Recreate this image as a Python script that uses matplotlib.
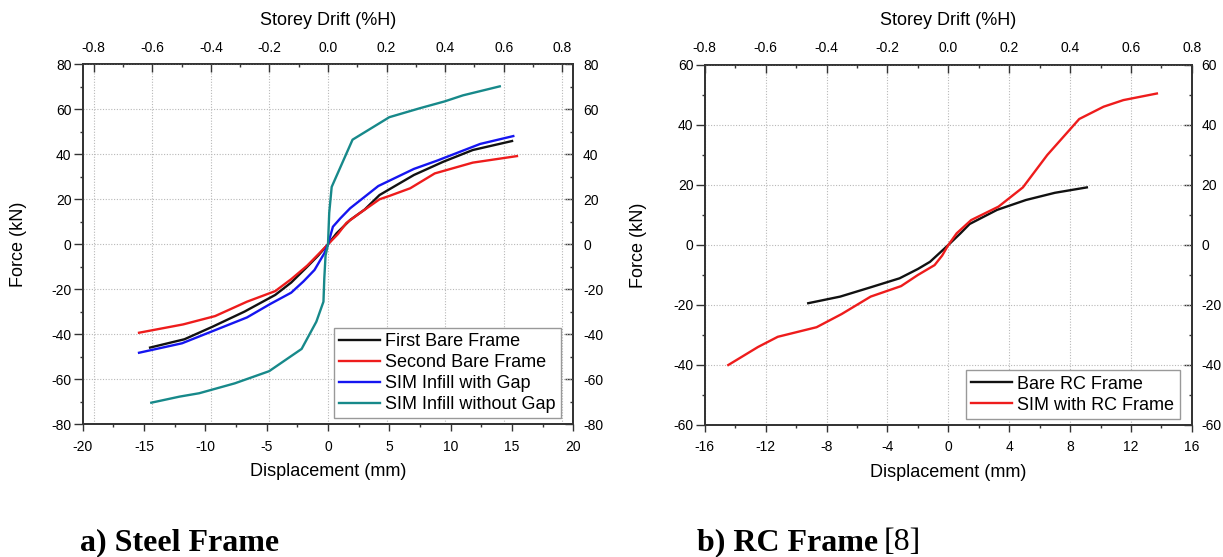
import numpy as np
import matplotlib
matplotlib.use("Agg")
import matplotlib.pyplot as plt
from matplotlib.ticker import MultipleLocator

plt.rcParams['font.family'] = ['Liberation Sans', 'DejaVu Sans']
plt.rcParams['axes.unicode_minus'] = False

# ---- data: a) steel frame (displacement mm, force kN)
first_disp = [-14.5, -11.7, -9.4, -6.8, -4.3, -3.0, -1.7, -0.8, 0.0, 0.7, 1.8, 3.0, 4.2, 7.0, 9.4, 11.8, 15.0]
first_force = [-45.9, -42.2, -36.6, -29.9, -22.5, -17.0, -10.0, -5.0, 0.0, 4.9, 10.8, 15.5, 21.9, 30.8, 36.7, 41.9, 45.9]

second_disp = [-15.4, -11.8, -9.2, -6.6, -4.3, -3.0, -1.7, -0.8, 0.0, 0.8, 1.5, 2.5, 4.2, 5.0, 6.7, 8.7, 11.8, 15.4]
second_force = [-39.3, -35.6, -31.9, -25.5, -20.8, -15.5, -9.5, -4.5, 0.0, 4.5, 9.5, 13.5, 20.0, 21.5, 24.9, 31.5, 36.3, 39.2]

gap_disp = [-15.4, -11.9, -9.5, -6.6, -4.7, -3.0, -2.0, -1.1, -0.3, 0.0, 0.4, 1.0, 1.8, 4.1, 7.0, 8.9, 12.4, 15.1]
gap_force = [-48.2, -44.0, -38.8, -32.5, -26.5, -21.5, -16.5, -11.4, -4.0, 0.0, 7.8, 11.5, 16.0, 25.9, 33.5, 37.2, 44.6, 48.1]

nogap_disp = [-14.4, -12.1, -10.5, -7.6, -4.8, -2.15, -0.95, -0.37, -0.3, -0.2, 0.0, 0.1, 0.3, 2.0, 5.0, 7.5, 9.5, 11.0, 14.0]
nogap_force = [-70.4, -67.7, -66.2, -61.8, -56.4, -46.5, -34.4, -25.5, -15.0, -5.0, 0.0, 14.0, 25.5, 46.5, 56.5, 60.5, 63.5, 66.2, 70.2]

# ---- data: b) RC frame
bare_disp = [-9.2, -7.1, -5.1, -3.2, -2.0, -1.2, 0.0, 0.8, 1.4, 3.2, 5.1, 7.0, 9.1]
bare_force = [-19.4, -17.2, -14.1, -11.1, -8.0, -5.6, 0.0, 3.9, 7.0, 11.7, 15.0, 17.4, 19.2]

simrc_disp = [-14.45, -12.5, -11.2, -8.65, -7.0, -5.1, -3.1, -2.0, -0.9, -0.4, 0.0, 0.55, 1.5, 3.3, 4.9, 6.5, 8.6, 10.2, 11.5, 13.7]
simrc_force = [-40.0, -34.0, -30.6, -27.4, -23.0, -17.2, -13.7, -10.0, -6.7, -3.5, 0.0, 3.9, 8.3, 12.8, 19.2, 30.0, 42.0, 46.1, 48.3, 50.5]

steel_labels = ["First Bare Frame", "Second Bare Frame", "SIM Infill with Gap", "SIM Infill without Gap"]
rc_labels = ["Bare RC Frame", "SIM with RC Frame"]

BLACK = "#111111"
RED = "#ee1c1c"
BLUE = "#1515f0"
TEAL = "#17898a"
GRIDC = "#b8b8b8"
SPINE = "#333333"
LW = 1.7

W, H = 1223, 557
fig = plt.figure(figsize=(W / 100, H / 100), dpi=100)


def make_panel(rect, xlim, xmaj, xmin, ylim, ymaj, ymin, drift_lim, ylab_x):
    ax = fig.add_axes(rect)
    axt = ax.twiny()
    axr = ax.twinx()
    ax.set_zorder(3)
    ax.patch.set_visible(False)
    axt.set_zorder(1)
    axr.set_zorder(2)

    ax.set_xlim(xlim)
    ax.set_ylim(ylim)
    axr.set_ylim(ylim)
    axt.set_xlim(-drift_lim, drift_lim)

    ax.xaxis.set_major_locator(MultipleLocator(xmaj))
    ax.xaxis.set_minor_locator(MultipleLocator(xmin))
    for a in (ax, axr):
        a.yaxis.set_major_locator(MultipleLocator(ymaj))
        a.yaxis.set_minor_locator(MultipleLocator(ymin))
    axt.xaxis.set_major_locator(MultipleLocator(0.2))
    axt.xaxis.set_minor_locator(MultipleLocator(0.1))
    axt.xaxis.set_major_formatter(lambda v, p: f"{v:.1f}")

    ax.tick_params(axis='x', which='major', direction='out', length=5, width=1, pad=6, labelsize=10, color=SPINE)
    ax.tick_params(axis='x', which='minor', direction='out', length=2.5, width=1, color=SPINE)
    ax.tick_params(axis='y', which='major', direction='out', length=6.5, width=1, pad=1.5, labelsize=10, color=SPINE)
    ax.tick_params(axis='y', which='minor', direction='out', length=2.5, width=1, color=SPINE)
    axt.tick_params(axis='x', which='major', direction='in', length=5.5, width=1, pad=7, labelsize=10, color=SPINE)
    axt.tick_params(axis='x', which='minor', direction='in', length=2.5, width=1, color=SPINE)
    axr.tick_params(axis='y', which='major', direction='in', length=5.5, width=1, pad=7, labelsize=10, color=SPINE)
    axr.tick_params(axis='y', which='minor', direction='in', length=2.5, width=1, color=SPINE)

    for a in (ax, axt, axr):
        for s in a.spines.values():
            s.set_color(SPINE)
            s.set_linewidth(1.1)

    ax.grid(axis='y', which='major', linestyle=(0, (1, 1.5)), color=GRIDC, linewidth=0.8)
    axt.grid(axis='x', which='major', linestyle=(0, (1, 1.5)), color=GRIDC, linewidth=0.8)

    ax.set_xlabel("Displacement (mm)", fontsize=13, va='center')
    ax.xaxis.set_label_coords(0.5, -0.1325)
    ax.set_ylabel("Force (kN)", fontsize=13, va='center')
    ax.yaxis.set_label_coords(ylab_x, 0.5)
    axt.set_xlabel("Storey Drift (%H)", fontsize=13, va='center')
    axt.xaxis.set_label_coords(0.5, 1.123)
    return ax


# ---- panel a
ax1 = make_panel([82.6 / W, 1 - 424.3 / H, 490.8 / W, 360 / H],
                 (-20, 20), 5, 2.5, (-80, 80), 20, 10, 0.838, -0.1296)
ax1.plot(first_disp, first_force, color=BLACK, lw=LW, label=steel_labels[0])
ax1.plot(second_disp, second_force, color=RED, lw=LW, label=steel_labels[1])
ax1.plot(gap_disp, gap_force, color=BLUE, lw=LW, label=steel_labels[2])
ax1.plot(nogap_disp, nogap_force, color=TEAL, lw=LW, label=steel_labels[3])
leg1 = ax1.legend(loc='lower right', bbox_to_anchor=(1 - 12.5 / 490.8, 6 / 360), borderaxespad=0,
                  fontsize=13, handlelength=2.25, handletextpad=0.3, labelspacing=0.22,
                  borderpad=0.3, fancybox=False, framealpha=1, edgecolor='#999999')
leg1.get_frame().set_linewidth(1.0)

# ---- panel b
ax2 = make_panel([704.7 / W, 1 - 425 / H, 487.2 / W, 360 / H],
                 (-16, 16), 4, 2, (-60, 60), 20, 10, 0.8, -0.135)
ax2.plot(bare_disp, bare_force, color=BLACK, lw=LW, label=rc_labels[0])
ax2.plot(simrc_disp, simrc_force, color=RED, lw=LW, label=rc_labels[1])
leg2 = ax2.legend(loc='lower right', bbox_to_anchor=(1 - 12 / 487.2, 6 / 360), borderaxespad=0,
                  fontsize=13, handlelength=2.25, handletextpad=0.3, labelspacing=0.22,
                  borderpad=0.3, fancybox=False, framealpha=1, edgecolor='#999999')
leg2.get_frame().set_linewidth(1.0)

# ---- captions
fig.text(80 / W, 1 - 550 / H, "a) Steel Frame", fontfamily='Liberation Serif', fontweight='bold',
         fontsize=23, va='baseline', ha='left')
fig.text(697 / W, 1 - 550 / H, "b) RC Frame", fontfamily='Liberation Serif', fontweight='bold',
         fontsize=23, va='baseline', ha='left')
fig.text(884 / W, 1 - 550 / H, "[8]", fontfamily='Liberation Serif', fontsize=23, va='baseline', ha='left')

fig.savefig("out.png", dpi=100)
